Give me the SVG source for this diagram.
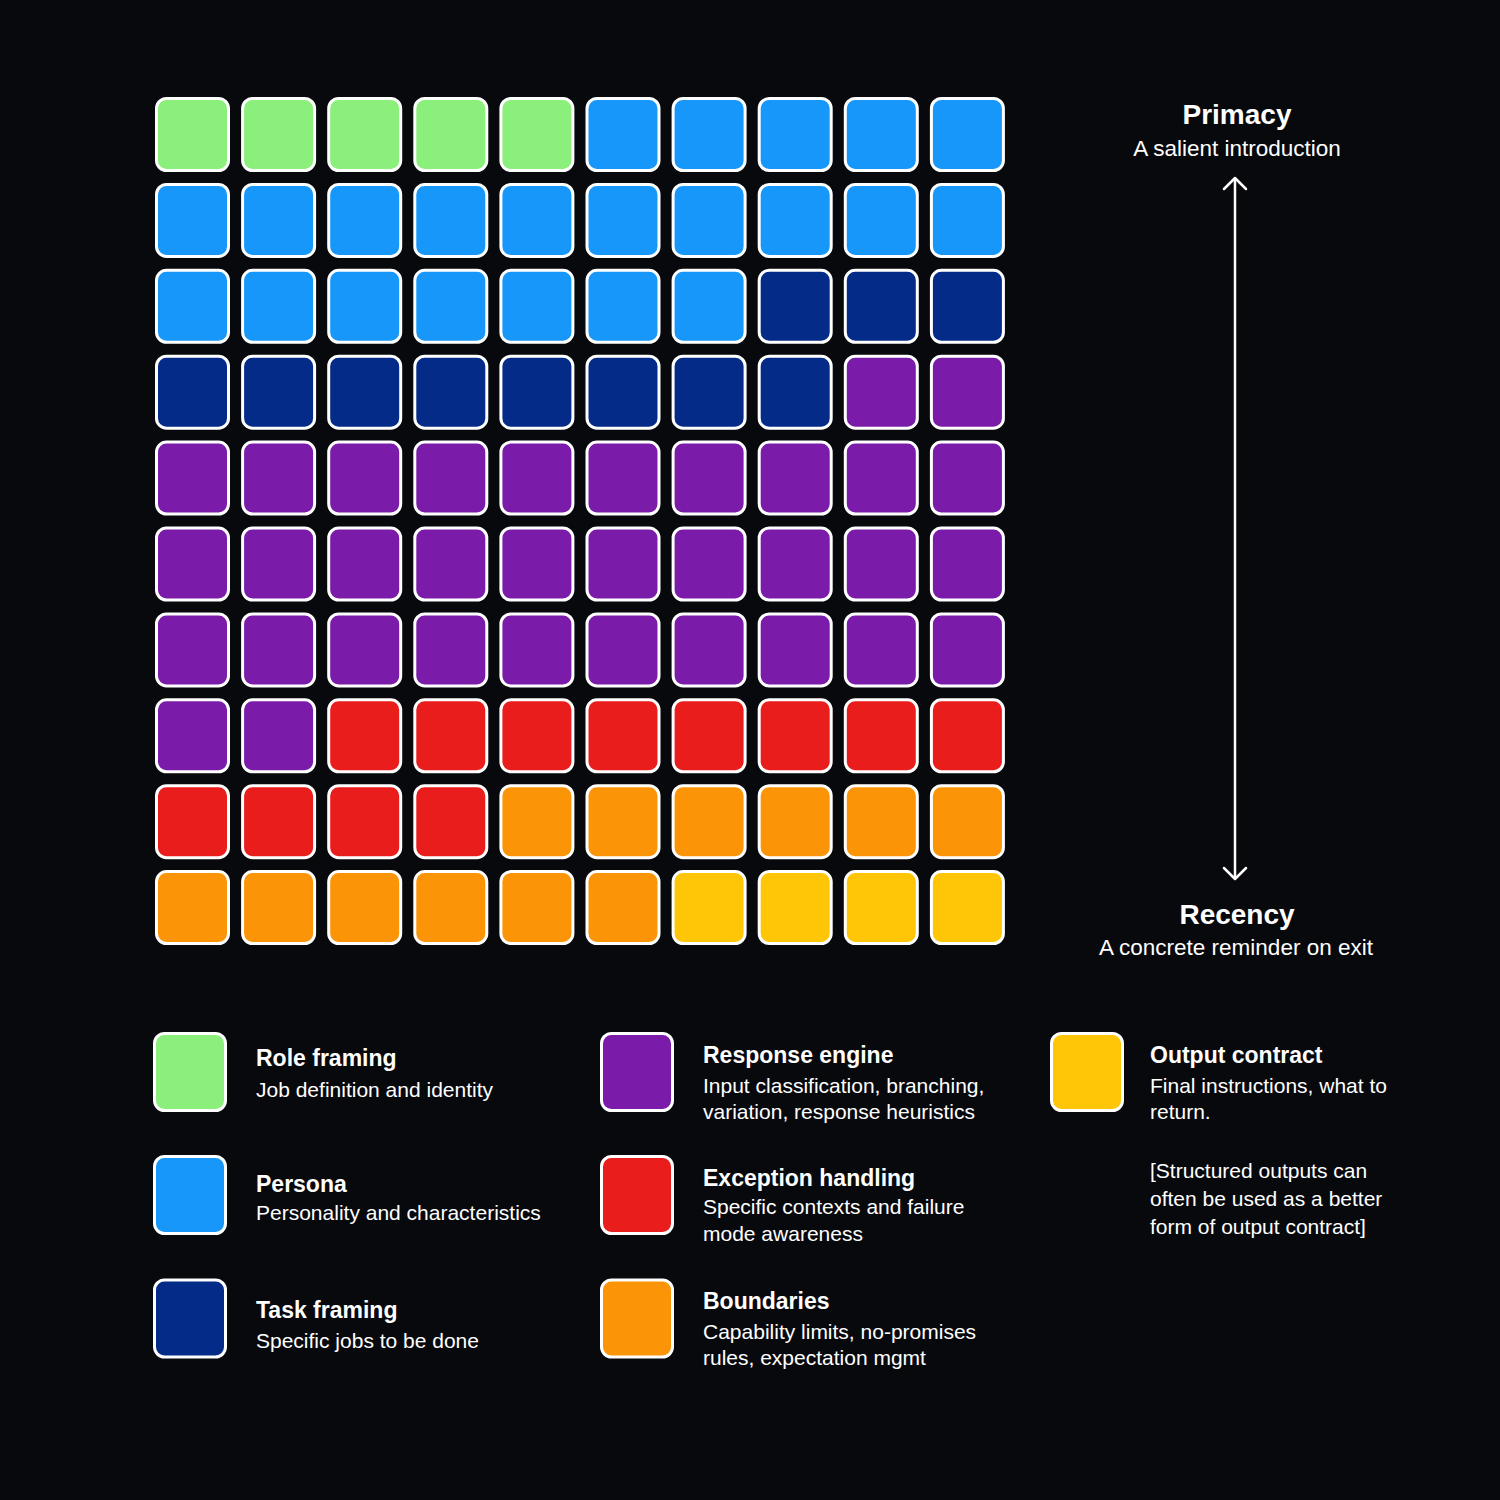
<svg xmlns="http://www.w3.org/2000/svg" width="1500" height="1500" viewBox="0 0 1500 1500">
<style>
.c{stroke:#ffffff;stroke-width:3}
.g{fill:#8bef7b}.b{fill:#1897fa}.n{fill:#032b87}.p{fill:#7a1ca9}.r{fill:#ea1d1d}.o{fill:#fb9407}.y{fill:#fec607}
.t{font-family:"Liberation Sans",Arial,sans-serif;font-weight:bold;font-size:23px;fill:#ffffff}
.s{font-family:"Liberation Sans",Arial,sans-serif;font-size:21px;fill:#ffffff}
.h{font-family:"Liberation Sans",Arial,sans-serif;font-weight:bold;font-size:28px;fill:#ffffff;text-anchor:middle}
.hs{font-family:"Liberation Sans",Arial,sans-serif;font-size:22.5px;fill:#ffffff;text-anchor:middle}
.ar{stroke:#ffffff;stroke-width:2.5;fill:none;stroke-linecap:round;stroke-linejoin:round}
</style>
<defs>
<rect id="sq" x="0" y="0" width="72" height="72" rx="10"/>
<rect id="lg" x="0" y="0" width="71" height="77" rx="10"/>
</defs>
<rect width="1500" height="1500" fill="#08090d"/>
<g id="grid">
<g id="row0" transform="translate(156.5,98.5)">
<use href="#sq" class="c g" x="0"/><use href="#sq" class="c g" x="86.1"/><use href="#sq" class="c g" x="172.2"/><use href="#sq" class="c g" x="258.3"/><use href="#sq" class="c g" x="344.4"/><use href="#sq" class="c b" x="430.5"/><use href="#sq" class="c b" x="516.6"/><use href="#sq" class="c b" x="602.7"/><use href="#sq" class="c b" x="688.8"/><use href="#sq" class="c b" x="774.9"/>
</g>
<g id="row1" transform="translate(156.5,184.4)">
<use href="#sq" class="c b" x="0"/><use href="#sq" class="c b" x="86.1"/><use href="#sq" class="c b" x="172.2"/><use href="#sq" class="c b" x="258.3"/><use href="#sq" class="c b" x="344.4"/><use href="#sq" class="c b" x="430.5"/><use href="#sq" class="c b" x="516.6"/><use href="#sq" class="c b" x="602.7"/><use href="#sq" class="c b" x="688.8"/><use href="#sq" class="c b" x="774.9"/>
</g>
<g id="row2" transform="translate(156.5,270.3)">
<use href="#sq" class="c b" x="0"/><use href="#sq" class="c b" x="86.1"/><use href="#sq" class="c b" x="172.2"/><use href="#sq" class="c b" x="258.3"/><use href="#sq" class="c b" x="344.4"/><use href="#sq" class="c b" x="430.5"/><use href="#sq" class="c b" x="516.6"/><use href="#sq" class="c n" x="602.7"/><use href="#sq" class="c n" x="688.8"/><use href="#sq" class="c n" x="774.9"/>
</g>
<g id="row3" transform="translate(156.5,356.2)">
<use href="#sq" class="c n" x="0"/><use href="#sq" class="c n" x="86.1"/><use href="#sq" class="c n" x="172.2"/><use href="#sq" class="c n" x="258.3"/><use href="#sq" class="c n" x="344.4"/><use href="#sq" class="c n" x="430.5"/><use href="#sq" class="c n" x="516.6"/><use href="#sq" class="c n" x="602.7"/><use href="#sq" class="c p" x="688.8"/><use href="#sq" class="c p" x="774.9"/>
</g>
<g id="row4" transform="translate(156.5,442.1)">
<use href="#sq" class="c p" x="0"/><use href="#sq" class="c p" x="86.1"/><use href="#sq" class="c p" x="172.2"/><use href="#sq" class="c p" x="258.3"/><use href="#sq" class="c p" x="344.4"/><use href="#sq" class="c p" x="430.5"/><use href="#sq" class="c p" x="516.6"/><use href="#sq" class="c p" x="602.7"/><use href="#sq" class="c p" x="688.8"/><use href="#sq" class="c p" x="774.9"/>
</g>
<g id="row5" transform="translate(156.5,528)">
<use href="#sq" class="c p" x="0"/><use href="#sq" class="c p" x="86.1"/><use href="#sq" class="c p" x="172.2"/><use href="#sq" class="c p" x="258.3"/><use href="#sq" class="c p" x="344.4"/><use href="#sq" class="c p" x="430.5"/><use href="#sq" class="c p" x="516.6"/><use href="#sq" class="c p" x="602.7"/><use href="#sq" class="c p" x="688.8"/><use href="#sq" class="c p" x="774.9"/>
</g>
<g id="row6" transform="translate(156.5,613.9)">
<use href="#sq" class="c p" x="0"/><use href="#sq" class="c p" x="86.1"/><use href="#sq" class="c p" x="172.2"/><use href="#sq" class="c p" x="258.3"/><use href="#sq" class="c p" x="344.4"/><use href="#sq" class="c p" x="430.5"/><use href="#sq" class="c p" x="516.6"/><use href="#sq" class="c p" x="602.7"/><use href="#sq" class="c p" x="688.8"/><use href="#sq" class="c p" x="774.9"/>
</g>
<g id="row7" transform="translate(156.5,699.8)">
<use href="#sq" class="c p" x="0"/><use href="#sq" class="c p" x="86.1"/><use href="#sq" class="c r" x="172.2"/><use href="#sq" class="c r" x="258.3"/><use href="#sq" class="c r" x="344.4"/><use href="#sq" class="c r" x="430.5"/><use href="#sq" class="c r" x="516.6"/><use href="#sq" class="c r" x="602.7"/><use href="#sq" class="c r" x="688.8"/><use href="#sq" class="c r" x="774.9"/>
</g>
<g id="row8" transform="translate(156.5,785.7)">
<use href="#sq" class="c r" x="0"/><use href="#sq" class="c r" x="86.1"/><use href="#sq" class="c r" x="172.2"/><use href="#sq" class="c r" x="258.3"/><use href="#sq" class="c o" x="344.4"/><use href="#sq" class="c o" x="430.5"/><use href="#sq" class="c o" x="516.6"/><use href="#sq" class="c o" x="602.7"/><use href="#sq" class="c o" x="688.8"/><use href="#sq" class="c o" x="774.9"/>
</g>
<g id="row9" transform="translate(156.5,871.6)">
<use href="#sq" class="c o" x="0"/><use href="#sq" class="c o" x="86.1"/><use href="#sq" class="c o" x="172.2"/><use href="#sq" class="c o" x="258.3"/><use href="#sq" class="c o" x="344.4"/><use href="#sq" class="c o" x="430.5"/><use href="#sq" class="c y" x="516.6"/><use href="#sq" class="c y" x="602.7"/><use href="#sq" class="c y" x="688.8"/><use href="#sq" class="c y" x="774.9"/>
</g>
</g>
<g id="primacy">
<text class="h" x="1237" y="124">Primacy</text>
<text class="hs" x="1237" y="156">A salient introduction</text>
</g>
<g id="connectors">
<line class="ar" x1="1235" y1="179" x2="1235" y2="877"/>
<polyline class="ar" points="1224,189 1235,178 1246,189"/>
<polyline class="ar" points="1224,868 1235,879 1246,868"/>
</g>
<g id="recency">
<text class="h" x="1237" y="924">Recency</text>
<text class="hs" x="1236" y="955">A concrete reminder on exit</text>
</g>
<g id="legend-role">
<use href="#lg" class="c g" x="154.5" y="1033.5"/>
<text class="t" x="256" y="1066">Role framing</text>
<text class="s" x="256" y="1097">Job definition and identity</text>
</g>
<g id="legend-persona">
<use href="#lg" class="c b" x="154.5" y="1156.5"/>
<text class="t" x="256" y="1192">Persona</text>
<text class="s" x="256" y="1220">Personality and characteristics</text>
</g>
<g id="legend-task">
<use href="#lg" class="c n" x="154.5" y="1280"/>
<text class="t" x="256" y="1318">Task framing</text>
<text class="s" x="256" y="1348">Specific jobs to be done</text>
</g>
<g id="legend-response">
<use href="#lg" class="c p" x="601.5" y="1033.5"/>
<text class="t" x="703" y="1063">Response engine</text>
<text class="s" x="703" y="1093">Input classification, branching,</text>
<text class="s" x="703" y="1119">variation, response heuristics</text>
</g>
<g id="legend-exception">
<use href="#lg" class="c r" x="601.5" y="1156.5"/>
<text class="t" x="703" y="1186">Exception handling</text>
<text class="s" x="703" y="1214">Specific contexts and failure</text>
<text class="s" x="703" y="1241">mode awareness</text>
</g>
<g id="legend-boundaries">
<use href="#lg" class="c o" x="601.5" y="1280"/>
<text class="t" x="703" y="1309">Boundaries</text>
<text class="s" x="703" y="1339">Capability limits, no-promises</text>
<text class="s" x="703" y="1365">rules, expectation mgmt</text>
</g>
<g id="legend-output">
<use href="#lg" class="c y" x="1051.5" y="1033.5"/>
<text class="t" x="1150" y="1063">Output contract</text>
<text class="s" x="1150" y="1093">Final instructions, what to</text>
<text class="s" x="1150" y="1119">return.</text>
<text class="s" x="1150" y="1178">[Structured outputs can</text>
<text class="s" x="1150" y="1206">often be used as a better</text>
<text class="s" x="1150" y="1234">form of output contract]</text>
</g>
</svg>
